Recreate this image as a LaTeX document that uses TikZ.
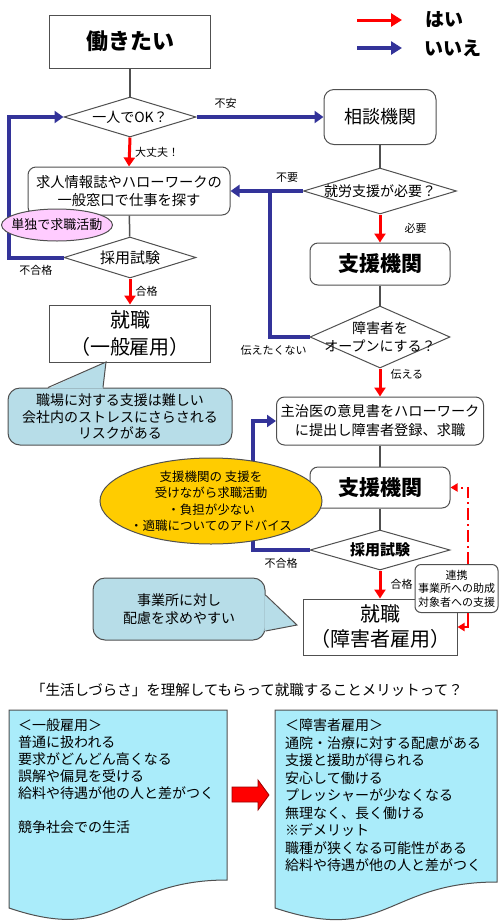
\documentclass[tikz,border=0pt]{standalone}
\usepackage{fontspec}
\setmainfont{Noto Sans CJK JP}
\usepackage{xcolor}
\usetikzlibrary{shapes.geometric, arrows.meta, positioning}

\definecolor{noblue}{RGB}{51,51,153}
\definecolor{yesred}{RGB}{255,0,0}
\definecolor{pinkfill}{RGB}{255,204,255}
\definecolor{goldfill}{RGB}{255,204,0}
\definecolor{balloon}{RGB}{183,221,232}
\definecolor{sheet}{RGB}{170,236,250}
\definecolor{edge}{RGB}{80,80,80}

\begin{document}
\begin{tikzpicture}[x=1pt, y=-1pt,
    box/.style={rectangle, draw=edge, fill=white, line width=1pt, inner sep=0pt, align=center},
    rbox/.style={box, rounded corners=8pt},
    decision/.style={diamond, draw=edge, fill=white, line width=1pt, inner sep=0pt},
    bubble/.style={ellipse, draw=edge, line width=1pt, inner sep=0pt},
    balloonbox/.style={rectangle, rounded corners=12pt, draw=edge, fill=balloon, line width=1pt, inner sep=0pt, align=center},
    txt/.style={font=\fontsize{14.3}{18}\selectfont},
    dtext/.style={font=\fontsize{14}{18}\selectfont, align=center, inner sep=0pt},
    bigtext/.style={font=\fontsize{21}{26}\selectfont\bfseries},
    jobtext/.style={font=\fontsize{20}{26}\selectfont},
    lbl/.style={font=\fontsize{11}{13}\selectfont, inner sep=1pt},
    doctext/.style={font=\fontsize{14}{17}\selectfont, align=left, inner sep=0pt},
    plain/.style={draw=edge, line width=1.5pt},
    yes/.style={draw=yesred, line width=3pt, -{Triangle[length=9pt, width=11pt]}},
    no/.style={draw=noblue, line width=4pt, -{Triangle[length=9pt, width=12pt]}},
    noline/.style={draw=noblue, line width=4pt},
    linkline/.style={draw=yesred, line width=2pt, -{Triangle[length=7pt, width=8pt]}},
]
    \path[use as bounding box, fill=white] (0,0) rectangle (500,922);

    % Legend
    \coordinate (YesTail) at (357,20);
    \coordinate (YesHead) at (402,20);
    \coordinate (NoTail) at (357,48);
    \coordinate (NoHead) at (402,48);
    \node (YesKey) [font=\fontsize{19}{22}\selectfont\bfseries] at (444,20) {はい};
    \node (NoKey) [font=\fontsize{19}{22}\selectfont\bfseries] at (453,48) {いいえ};
    \draw [yes, -{Triangle[length=11pt, width=13pt]}] (YesTail) -- (YesHead);
    \draw [no, line width=3.5pt, -{Triangle[length=11pt, width=13pt]}] (NoTail) -- (NoHead);

    % Nodes: general route
    \node (Want) [box, minimum width=161pt, minimum height=53pt, font=\fontsize{22}{26}\selectfont\bfseries] at (130,41.5) {働きたい};
    \node (Alone) [decision, minimum width=132pt, minimum height=40pt, label={[dtext]center:一人でOK？}] at (130,117) {};
    \node (JobSearch) [rbox, txt, minimum width=202pt, minimum height=48pt] at (129,191) {求人情報誌やハローワークの\\一般窓口で仕事を探す};
    \node (Exam) [decision, minimum width=132pt, minimum height=41pt, label={[dtext, font=\fontsize{15}{18}\selectfont]center:採用試験}] at (130,257.5) {};
    \node (GenJob) [box, jobtext, minimum width=161pt, minimum height=57pt, font=\fontsize{20}{27}\selectfont] at (130,333.5) {就職\\（一般雇用）};

    % Nodes: supported route
    \node (Consult) [rbox, rounded corners=10pt, minimum width=112pt, minimum height=55pt, font=\fontsize{18}{22}\selectfont] at (380,117) {相談機関};
    \node (Need) [decision, minimum width=153pt, minimum height=46pt, label={[dtext]center:就労支援が必要？}] at (380,191) {};
    \node (Support) [rbox, bigtext, minimum width=140pt, minimum height=42pt] at (380,264) {支援機関};
    \node (Open) [decision, minimum width=140pt, minimum height=62pt, label={[dtext]center:障害者を\\オープンにする？}] at (380,337) {};
    \node (Doctor) [rbox, font=\fontsize{14.2}{19}\selectfont, minimum width=207pt, minimum height=48pt] at (380,421) {主治医の意見書をハローワーク\\に提出し障害者登録、求職};
    \node (SupportB) [rbox, bigtext, minimum width=140pt, minimum height=41pt] at (380,487.5) {支援機関};
    \node (ExamB) [decision, minimum width=140pt, minimum height=40pt, label={[dtext, font=\fontsize{15}{18}\selectfont\bfseries]center:採用試験}] at (380,550) {};
    \node (DisJob) [box, minimum width=154pt, minimum height=56pt, font=\fontsize{20}{25}\selectfont] at (380,627) {就職\\（障害者雇用）};

    % Plain links
    \draw [plain] (Want) -- (Alone);
    \draw [plain] (JobSearch) -- (Exam);
    \draw [plain] (Consult) -- (Need);
    \draw [plain] (Support) -- (Open);
    \draw [plain] (Doctor) -- (SupportB);
    \draw [plain] (SupportB) -- (ExamB);

    % Yes
    \draw [yes] (Alone.south) -- node[lbl, right=3pt] {大丈夫！} (JobSearch.north);
    \draw [yes] (Exam.south) -- node[lbl, right=3pt] {合格} (GenJob.north);
    \draw [yes] (Need.south) -- node[lbl, right=22pt] {必要} (Support.north);
    \draw [yes] (Open.south) -- node[lbl, right=8pt, pos=0.2] {伝える} (Doctor.north);
    \draw [yes] (ExamB.south) -- node[lbl, right=8pt] {合格} (DisJob.north);

    % No
    \coordinate (Junction) at (270,191);
    \draw [no] (Alone.east) -- node[lbl, above=6pt, pos=0.23] {不安} (Consult.west);
    \draw [no] (Need.west) -- node[lbl, above=6pt, pos=0.22] {不要} (JobSearch.east);
    \draw [noline] (Open.west) node[lbl, anchor=north east, yshift=-5pt] {伝えたくない} -| (Junction);
    \draw [no] (Exam.west) -- node[lbl, below=5pt] {不合格} ++(-55,0) |- (Alone.west);
    \draw [no] (ExamB.west) -- node[lbl, below=5pt] {不合格} ++(-57,0) |- (Doctor.west);

    % Notes on the flow
    \node (Solo) [bubble, fill=pinkfill, minimum width=111pt, minimum height=32pt, label={[dtext, font=\fontsize{13}{16}\selectfont]center:単独で求職活動}] at (57,225) {};
    \node (Merit) [bubble, fill=goldfill, minimum width=222pt, minimum height=86pt, label={[dtext, font=\fontsize{12.5}{16.5}\selectfont]center:支援機関の 支援を\\受けながら求職活動\\・負担が少ない\\・適職についてのアドバイス}] at (211,501) {};

    % Link between support and job
    \node (Link) [rbox, rounded corners=6pt, font=\fontsize{11}{13.5}\selectfont, minimum width=83pt, minimum height=48pt] at (456.5,588.5) {連携\\事業所への助成\\対象者への支援};
    \draw [linkline, dash pattern=on 12pt off 4pt on 2pt off 4pt] ([xshift=11.5pt]Link.north) |- (SupportB.east);
    \draw [linkline] ([xshift=11.5pt]Link.south) |- (DisJob.east);

    % Balloons
    \node (Risk) [balloonbox, font=\fontsize{14}{16.5}\selectfont, minimum width=224pt, minimum height=57pt] at (120,416.5) {職場に対する支援は難しい\\会社内のストレスにさらされる\\リスクがある};
    \coordinate (RiskTip) at (106,362);
    \fill [balloon] ([xshift=-72pt, yshift=-1.2pt]Risk.north) -- (RiskTip) -- ([xshift=-17pt, yshift=-1.2pt]Risk.north) -- cycle;
    \draw [edge, line width=1pt] ([xshift=-72pt]Risk.north) -- (RiskTip) -- ([xshift=-17pt]Risk.north);

    \node (Ease) [balloonbox, font=\fontsize{14}{18}\selectfont, minimum width=172pt, minimum height=62pt] at (179,609) {事業所に対し\\配慮を求めやすい};
    \coordinate (EaseTip) at (297,625);
    \fill [balloon] ([xshift=-1.2pt, yshift=14pt]Ease.east) -- (EaseTip) -- ([xshift=-1.2pt, yshift=-22pt]Ease.east) -- cycle;
    \draw [edge, line width=1pt] ([yshift=14pt]Ease.east) -- (EaseTip) -- ([yshift=-22pt]Ease.east);

    % Comparison
    \node (Question) [font=\fontsize{14.5}{17}\selectfont] at (247,690) {「生活しづらさ」を理解してもらって就職することメリットって？};
    \filldraw [fill=sheet, draw=edge, line width=1pt] (9,710) -- (227,710) -- (227,880) .. controls (118,880) and (118,945) .. (9,908) -- cycle;
    \filldraw [fill=sheet, draw=edge, line width=1pt] (275,710) -- (497,710) -- (497,882) .. controls (386,882) and (386,945) .. (275,908) -- cycle;
    \node (GenList) [doctext, anchor=north west] at (18,719) {＜一般雇用＞\\普通に扱われる\\要求がどんどん高くなる\\誤解や偏見を受ける\\給料や待遇が他の人と差がつく\\[17pt]競争社会での生活};
    \node (DisList) [doctext, font=\fontsize{14}{17.5}\selectfont, anchor=north west] at (285,719) {＜障害者雇用＞\\通院・治療に対する配慮がある\\支援と援助が得られる\\安心して働ける\\プレッシャーが少なくなる\\無理なく、長く働ける\\※デメリット\\職種が狭くなる可能性がある\\給料や待遇が他の人と差がつく};
    \filldraw [fill=yesred, draw=red!60!black, line width=0.8pt] (232,787) -- (258,787) -- (258,780) -- (269,795) -- (258,810) -- (258,802) -- (232,802) -- cycle;

\end{tikzpicture}
\end{document}
